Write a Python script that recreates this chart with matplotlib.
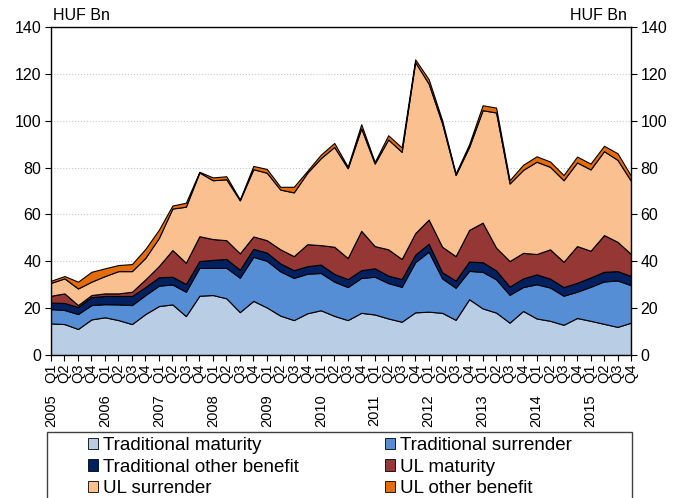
import numpy as np
import matplotlib.pyplot as plt
from matplotlib.patches import Patch, Rectangle

# ---------------------------
# Data (HUF Bn, quarterly, 2005 Q1 - 2015 Q4)
# ---------------------------

years = ['2005', '2006', '2007', '2008', '2009', '2010',
         '2011', '2012', '2013', '2014', '2015']
quarters = ['Q1', 'Q2', 'Q3', 'Q4']

trad_maturity = [13.5, 13.2, 11.1, 15.2, 16.1, 14.9, 13.2, 17.5, 20.9, 21.6, 16.6,
                 25.3, 25.6, 24.2, 18.3, 23.1, 20.3, 16.8, 14.9, 17.8, 19.1, 16.7,
                 14.9, 18.0, 17.3, 15.6, 14.2, 18.2, 18.5, 18.0, 15.0, 23.8, 19.9,
                 18.1, 13.8, 18.8, 15.6, 14.6, 12.9, 15.8, 14.6, 13.3, 12.0, 13.8]
trad_surrender = [6.1, 6.0, 6.4, 6.1, 5.6, 6.7, 8.1, 8.1, 8.7, 8.5, 10.4,
                  11.9, 11.6, 13.0, 14.7, 18.8, 19.9, 18.9, 18.0, 16.9, 15.9, 14.6,
                  14.1, 14.9, 16.1, 15.1, 14.9, 21.4, 25.6, 14.7, 13.7, 12.1, 15.6,
                  14.2, 11.9, 10.2, 14.6, 14.2, 12.4, 11.2, 14.5, 18.1, 19.8, 16.0]
trad_other = [2.8, 3.0, 3.0, 3.4, 3.5, 3.6, 3.9, 3.4, 3.6, 3.3, 3.3,
              2.9, 3.4, 3.8, 3.4, 3.4, 3.5, 3.4, 3.3, 3.2, 3.6, 3.3,
              3.4, 3.3, 3.6, 3.2, 3.3, 3.2, 3.4, 2.6, 3.1, 4.0, 4.1,
              3.8, 3.5, 3.7, 4.2, 3.8, 3.7, 3.8, 4.0, 4.1, 4.0, 3.9]
ul_maturity = [2.9, 4.1, 0.8, 0.9, 1.1, 1.1, 1.8, 3.3, 4.8, 11.4, 9.1,
               10.6, 8.9, 8.0, 7.0, 5.3, 5.3, 6.0, 6.0, 9.4, 8.3, 11.6,
               9.0, 16.8, 9.5, 11.2, 8.6, 9.2, 10.3, 10.9, 10.4, 13.5, 16.9,
               9.7, 10.9, 10.9, 8.7, 12.5, 10.8, 15.7, 11.4, 15.7, 12.5, 9.4]
ul_surrender = [5.5, 6.4, 7.1, 5.7, 7.4, 9.5, 8.8, 9.2, 12.0, 17.7, 23.9,
                27.2, 25.1, 26.0, 22.6, 28.7, 28.8, 25.5, 27.2, 30.5, 37.1, 42.6,
                38.3, 43.7, 35.2, 46.9, 45.7, 73.0, 58.0, 52.6, 34.6, 35.4, 48.0,
                57.7, 33.1, 35.4, 39.4, 35.2, 34.8, 35.7, 34.7, 35.8, 35.0, 31.2]
ul_other = [0.9, 1.0, 2.9, 4.2, 3.3, 2.6, 3.0, 3.8, 3.5, 1.3, 1.7,
            0.3, 1.2, 1.3, 0.4, 1.4, 1.6, 1.2, 2.4, 0.8, 1.5, 1.7,
            0.7, 1.8, 0.7, 1.8, 1.9, 1.2, 1.9, 1.4, 0.7, 1.2, 2.1,
            2.1, 1.4, 2.2, 2.3, 2.3, 2.2, 2.5, 2.5, 2.3, 2.8, 2.2]

series_names = ['Traditional maturity', 'Traditional surrender', 'Traditional other benefit',
                'UL maturity', 'UL surrender', 'UL other benefit']
series_colors = ['#b9cde5', '#558ed5', '#002060', '#953735', '#fac090', '#e46c0a']

# ---------------------------
# Chart
# ---------------------------

plt.rcParams['font.family'] = ['Liberation Sans', 'DejaVu Sans']

fig = plt.figure(figsize=(6.8, 4.98), dpi=100)
ax = fig.add_axes([51 / 680, 1 - 355 / 498, 580 / 680, 328 / 498])

x = np.arange(len(trad_maturity))
ax.stackplot(x, trad_maturity, trad_surrender, trad_other,
             ul_maturity, ul_surrender, ul_other,
             colors=series_colors, edgecolor='black', linewidth=0.8)

ax.set_xlim(0, len(x) - 1)
ax.set_ylim(0, 140)
ax.set_axisbelow(True)
ax.yaxis.grid(True, linestyle=':', color='#c8c8c8', linewidth=0.8)

for side in ['left', 'right', 'top', 'bottom']:
    ax.spines[side].set_color('black')
    ax.spines[side].set_linewidth(1.0)

ax.set_yticks(range(0, 141, 20))
ax.tick_params(axis='y', left=True, right=True, labelleft=True, labelright=True,
               direction='out', length=4, labelsize=11.5, pad=3)

quarter_labels = [q for _ in years for q in quarters]
ax.set_xticks(x)
ax.set_xticklabels(quarter_labels, rotation=90, fontsize=10.5)
ax.tick_params(axis='x', direction='out', length=4, pad=2)

# year labels under the Q1 of each year
for k, year in enumerate(years):
    ax.annotate(year, xy=(4 * k, 0), xycoords=('data', 'axes fraction'),
                xytext=(0, -28.5), textcoords='offset points',
                rotation=90, ha='center', va='top', fontsize=10.5)

fig.text(53 / 680, 1 - 15 / 498, 'HUF Bn', ha='left', va='center', fontsize=11.5)
fig.text(627 / 680, 1 - 15 / 498, 'HUF Bn', ha='right', va='center', fontsize=11.5)

# legend, filled row by row
order = [0, 2, 4, 1, 3, 5]
handles = [Patch(facecolor=series_colors[i], edgecolor='black', linewidth=0.6,
                 label=series_names[i]) for i in order]
fig.legend(handles=handles, loc='upper left', bbox_to_anchor=(88 / 680, 1 - 437 / 498),
           frameon=False, ncol=2, fontsize=13.5, handlelength=0.55, handleheight=0.55,
           handletextpad=0.25, columnspacing=4.6, labelspacing=0.25,
           borderpad=0, borderaxespad=0)
fig.add_artist(Rectangle((47 / 680, -0.05), 585 / 680, 0.05 + (498 - 432) / 498,
                         transform=fig.transFigure, fill=False,
                         edgecolor='#404040', linewidth=1.0))

fig.savefig('out.png', dpi=100)
